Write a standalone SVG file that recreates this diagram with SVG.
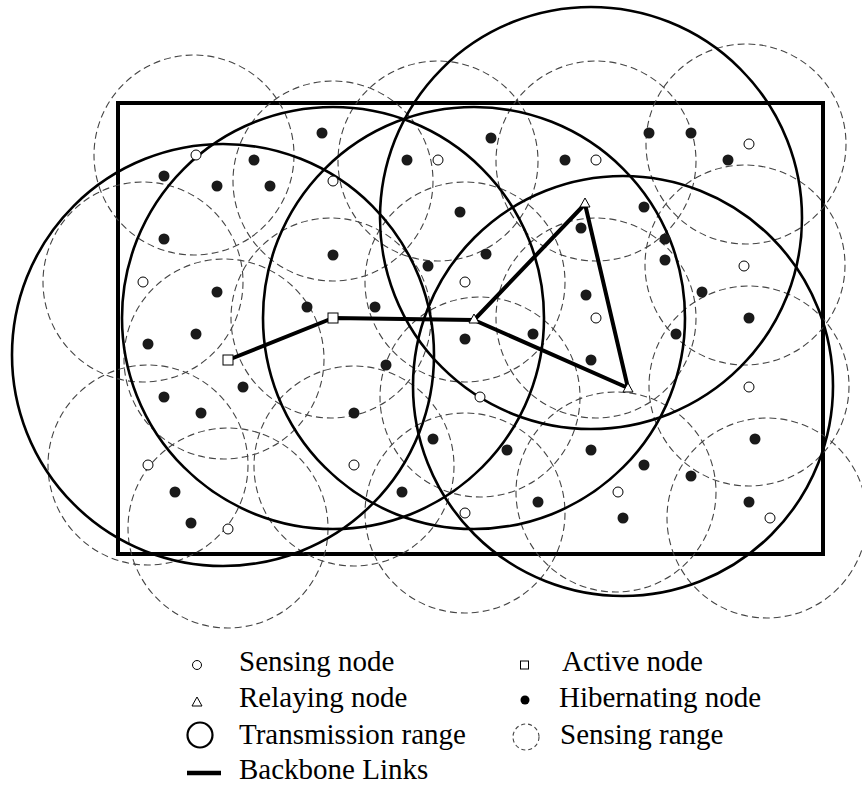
<svg xmlns="http://www.w3.org/2000/svg" width="862" height="785" viewBox="0 0 862 785">
<style>
.sr{fill:none;stroke:#444;stroke-width:1.1;stroke-dasharray:7 4}
.tr{fill:none;stroke:#000;stroke-width:2.6}
.bb{fill:none;stroke:#000;stroke-width:4;stroke-linecap:round;stroke-linejoin:round}
.sn{fill:#fff;stroke:#000;stroke-width:1}
.hn{fill:#1a1a1a;stroke:none}
.an{fill:#fff;stroke:#000;stroke-width:1}
.rn{fill:#fff;stroke:#000;stroke-width:1}
.lt{font-family:'Liberation Serif','DejaVu Serif',serif;font-size:29px;fill:#000}
</style>
<rect x="0" y="0" width="862" height="785" fill="#fff"/>
<g id="field">
<rect x="118" y="103" width="705" height="451" fill="none" stroke="#000" stroke-width="4"/>
</g>
<g id="sensing-ranges">
<circle class="sr" cx="194" cy="155" r="100"/>
<circle class="sr" cx="333" cy="181" r="100"/>
<circle class="sr" cx="438" cy="161" r="100"/>
<circle class="sr" cx="596" cy="161" r="100"/>
<circle class="sr" cx="746" cy="144" r="100"/>
<circle class="sr" cx="143" cy="282" r="100"/>
<circle class="sr" cx="745" cy="265" r="100"/>
<circle class="sr" cx="465" cy="282" r="100"/>
<circle class="sr" cx="596" cy="318" r="100"/>
<circle class="sr" cx="480" cy="397" r="100"/>
<circle class="sr" cx="749" cy="386" r="100"/>
<circle class="sr" cx="148" cy="465" r="100"/>
<circle class="sr" cx="354" cy="466" r="100"/>
<circle class="sr" cx="228" cy="528" r="100"/>
<circle class="sr" cx="465" cy="513" r="100"/>
<circle class="sr" cx="616" cy="492" r="100"/>
<circle class="sr" cx="767" cy="518" r="100"/>
<circle class="sr" cx="224" cy="359" r="100"/>
<circle class="sr" cx="331" cy="318" r="100"/>
</g>
<g id="transmission-ranges">
<circle class="tr" cx="223" cy="355" r="211"/>
<circle class="tr" cx="333" cy="318" r="211"/>
<circle class="tr" cx="474" cy="318" r="211"/>
<circle class="tr" cx="591" cy="218" r="211"/>
<circle class="tr" cx="623" cy="386" r="210"/>
</g>
<g id="connectors">
<polyline class="bb" points="228,360 333,318 474,320 585,204 628,388 474,320"/>
</g>
<g id="hibernating-nodes">
<circle class="hn" cx="164" cy="176" r="5.5"/>
<circle class="hn" cx="254" cy="160" r="5.5"/>
<circle class="hn" cx="217" cy="186" r="5.5"/>
<circle class="hn" cx="270" cy="186" r="5.5"/>
<circle class="hn" cx="322" cy="133" r="5.5"/>
<circle class="hn" cx="407" cy="160" r="5.5"/>
<circle class="hn" cx="491" cy="138" r="5.5"/>
<circle class="hn" cx="565" cy="160" r="5.5"/>
<circle class="hn" cx="649" cy="133" r="5.5"/>
<circle class="hn" cx="691" cy="133" r="5.5"/>
<circle class="hn" cx="728" cy="160" r="5.5"/>
<circle class="hn" cx="164" cy="239" r="5.5"/>
<circle class="hn" cx="217" cy="292" r="5.5"/>
<circle class="hn" cx="333" cy="255" r="5.5"/>
<circle class="hn" cx="460" cy="212" r="5.5"/>
<circle class="hn" cx="428" cy="266" r="5.5"/>
<circle class="hn" cx="486" cy="254" r="5.5"/>
<circle class="hn" cx="581" cy="228" r="5.5"/>
<circle class="hn" cx="644" cy="207" r="5.5"/>
<circle class="hn" cx="665" cy="239" r="5.5"/>
<circle class="hn" cx="665" cy="260" r="5.5"/>
<circle class="hn" cx="586" cy="295" r="5.5"/>
<circle class="hn" cx="702" cy="292" r="5.5"/>
<circle class="hn" cx="749" cy="318" r="5.5"/>
<circle class="hn" cx="676" cy="334" r="5.5"/>
<circle class="hn" cx="148" cy="344" r="5.5"/>
<circle class="hn" cx="196" cy="334" r="5.5"/>
<circle class="hn" cx="307" cy="307" r="5.5"/>
<circle class="hn" cx="375" cy="307" r="5.5"/>
<circle class="hn" cx="465" cy="339" r="5.5"/>
<circle class="hn" cx="533" cy="334" r="5.5"/>
<circle class="hn" cx="591" cy="360" r="5.5"/>
<circle class="hn" cx="386" cy="365" r="5.5"/>
<circle class="hn" cx="243" cy="387" r="5.5"/>
<circle class="hn" cx="164" cy="397" r="5.5"/>
<circle class="hn" cx="201" cy="413" r="5.5"/>
<circle class="hn" cx="354" cy="413" r="5.5"/>
<circle class="hn" cx="433" cy="439" r="5.5"/>
<circle class="hn" cx="507" cy="450" r="5.5"/>
<circle class="hn" cx="591" cy="450" r="5.5"/>
<circle class="hn" cx="644" cy="465" r="5.5"/>
<circle class="hn" cx="691" cy="476" r="5.5"/>
<circle class="hn" cx="755" cy="439" r="5.5"/>
<circle class="hn" cx="175" cy="492" r="5.5"/>
<circle class="hn" cx="191" cy="523" r="5.5"/>
<circle class="hn" cx="402" cy="492" r="5.5"/>
<circle class="hn" cx="538" cy="502" r="5.5"/>
<circle class="hn" cx="623" cy="518" r="5.5"/>
<circle class="hn" cx="749" cy="502" r="5.5"/>
</g>
<g id="sensing-nodes">
<circle class="sn" cx="196" cy="155" r="5"/>
<circle class="sn" cx="333" cy="181" r="5"/>
<circle class="sn" cx="438" cy="160" r="5"/>
<circle class="sn" cx="596" cy="160" r="5"/>
<circle class="sn" cx="749" cy="144" r="5"/>
<circle class="sn" cx="143" cy="282" r="5"/>
<circle class="sn" cx="744" cy="266" r="5"/>
<circle class="sn" cx="465" cy="282" r="5"/>
<circle class="sn" cx="596" cy="318" r="5"/>
<circle class="sn" cx="480" cy="397" r="5"/>
<circle class="sn" cx="749" cy="387" r="5"/>
<circle class="sn" cx="148" cy="465" r="5"/>
<circle class="sn" cx="354" cy="465" r="5"/>
<circle class="sn" cx="228" cy="529" r="5"/>
<circle class="sn" cx="465" cy="513" r="5"/>
<circle class="sn" cx="618" cy="492" r="5"/>
<circle class="sn" cx="770" cy="518" r="5"/>
</g>
<g id="active-nodes">
<rect class="an" x="223" y="355" width="10" height="10"/>
<rect class="an" x="328" y="313" width="10" height="10"/>
</g>
<g id="relaying-nodes">
<polygon class="rn" points="474,314 479,323 469,323"/>
<polygon class="rn" points="585,198 590,207 580,207"/>
<polygon class="rn" points="628,383 633,392 623,392"/>
</g>
<g id="legend">
<g id="legend-sensing-node">
<circle cx="197" cy="665" r="4.5" fill="#fff" stroke="#000" stroke-width="1"/>
<text class="lt" x="239" y="671">Sensing node</text>
</g>
<g id="legend-active-node">
<rect x="520.5" y="661" width="8" height="8" fill="#fff" stroke="#000" stroke-width="1"/>
<text class="lt" x="562" y="671">Active node</text>
</g>
<g id="legend-relaying-node">
<polygon points="197,697 202,706 192,706" fill="#fff" stroke="#000" stroke-width="1"/>
<text class="lt" x="239" y="707">Relaying node</text>
</g>
<g id="legend-hibernating-node">
<circle cx="525" cy="700" r="4.5" fill="#000"/>
<text class="lt" x="559" y="707">Hibernating node</text>
</g>
<g id="legend-transmission-range">
<circle cx="200" cy="735" r="12.5" fill="none" stroke="#000" stroke-width="2.2"/>
<text class="lt" x="239" y="744">Transmission range</text>
</g>
<g id="legend-sensing-range">
<circle cx="526" cy="737" r="13" fill="none" stroke="#444" stroke-width="1.1" stroke-dasharray="4 3"/>
<text class="lt" x="560" y="744">Sensing range</text>
</g>
<g id="legend-backbone">
<line x1="187" y1="773" x2="221" y2="773" stroke="#000" stroke-width="4.5"/>
<text class="lt" x="239" y="779">Backbone Links</text>
</g>
</g>
</svg>
